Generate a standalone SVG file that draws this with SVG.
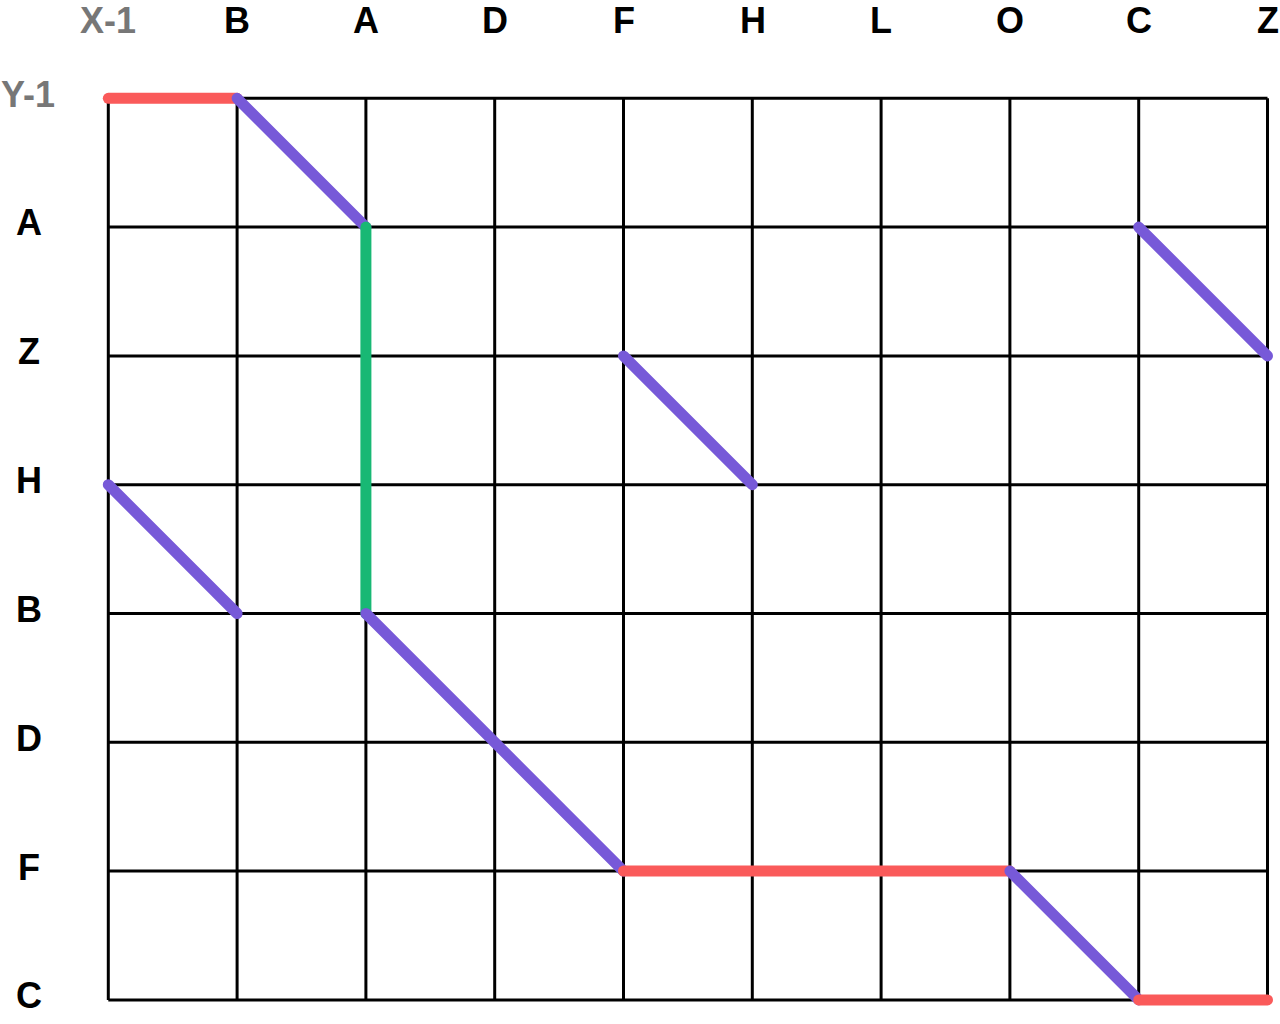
<svg xmlns="http://www.w3.org/2000/svg" width="1280" height="1024" viewBox="0 0 1280 1024">
<style>
.lbl{font-family:"Liberation Sans",Arial,sans-serif;font-weight:bold;font-size:36px;fill:#000;text-anchor:middle}
.gray{fill:#777777}
.grid line{stroke:#000;stroke-width:3}
.seg{stroke-width:11;stroke-linecap:round;fill:none}
.red{stroke:#fa5a5a}
.pur{stroke:#7759d8}
.grn{stroke:#18b874}
</style>
<rect width="1280" height="1024" fill="#fff"/>
<g id="grid" class="grid">
<line x1="108.3" y1="98.3" x2="108.3" y2="999.9"/>
<line x1="237.1" y1="98.3" x2="237.1" y2="999.9"/>
<line x1="365.9" y1="98.3" x2="365.9" y2="999.9"/>
<line x1="494.7" y1="98.3" x2="494.7" y2="999.9"/>
<line x1="623.5" y1="98.3" x2="623.5" y2="999.9"/>
<line x1="752.3" y1="98.3" x2="752.3" y2="999.9"/>
<line x1="881.1" y1="98.3" x2="881.1" y2="999.9"/>
<line x1="1009.9" y1="98.3" x2="1009.9" y2="999.9"/>
<line x1="1138.7" y1="98.3" x2="1138.7" y2="999.9"/>
<line x1="1267.5" y1="98.3" x2="1267.5" y2="999.9"/>
<line x1="108.3" y1="98.3" x2="1267.5" y2="98.3"/>
<line x1="108.3" y1="227.1" x2="1267.5" y2="227.1"/>
<line x1="108.3" y1="355.9" x2="1267.5" y2="355.9"/>
<line x1="108.3" y1="484.7" x2="1267.5" y2="484.7"/>
<line x1="108.3" y1="613.5" x2="1267.5" y2="613.5"/>
<line x1="108.3" y1="742.3" x2="1267.5" y2="742.3"/>
<line x1="108.3" y1="871.1" x2="1267.5" y2="871.1"/>
<line x1="108.3" y1="999.9" x2="1267.5" y2="999.9"/>
</g>
<g id="col-labels">
<text class="lbl gray" x="108" y="33">X-1</text>
<text class="lbl" x="237" y="33">B</text>
<text class="lbl" x="366" y="33">A</text>
<text class="lbl" x="495" y="33">D</text>
<text class="lbl" x="624" y="33">F</text>
<text class="lbl" x="753" y="33">H</text>
<text class="lbl" x="881" y="33">L</text>
<text class="lbl" x="1010" y="33">O</text>
<text class="lbl" x="1139" y="33">C</text>
<text class="lbl" x="1268" y="33">Z</text>
</g>
<g id="row-labels">
<text class="lbl gray" x="28" y="107">Y-1</text>
<text class="lbl" x="29" y="235">A</text>
<text class="lbl" x="29" y="364">Z</text>
<text class="lbl" x="29" y="493">H</text>
<text class="lbl" x="29" y="622">B</text>
<text class="lbl" x="29" y="751">D</text>
<text class="lbl" x="29" y="880">F</text>
<text class="lbl" x="29" y="1008">C</text>
</g>
<g id="connectors">
<line class="seg red" x1="108.3" y1="98.3" x2="237.1" y2="98.3"/>
<line class="seg pur" x1="237.1" y1="98.3" x2="365.9" y2="227.1"/>
<line class="seg grn" x1="365.9" y1="227.1" x2="365.9" y2="613.5"/>
<line class="seg pur" x1="1138.7" y1="227.1" x2="1267.5" y2="355.9"/>
<line class="seg pur" x1="623.5" y1="355.9" x2="752.3" y2="484.7"/>
<line class="seg pur" x1="108.3" y1="484.7" x2="237.1" y2="613.5"/>
<line class="seg pur" x1="365.9" y1="613.5" x2="623.5" y2="871.1"/>
<line class="seg red" x1="623.5" y1="871.1" x2="1009.9" y2="871.1"/>
<line class="seg pur" x1="1009.9" y1="871.1" x2="1138.7" y2="999.9"/>
<line class="seg red" x1="1138.7" y1="999.9" x2="1267.5" y2="999.9"/>
</g>
</svg>
